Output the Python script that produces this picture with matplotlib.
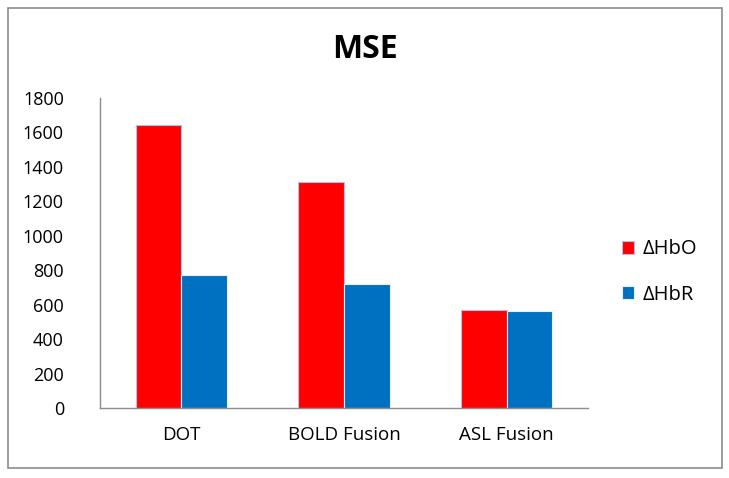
import numpy as np
import matplotlib
matplotlib.use('Agg')
import matplotlib.pyplot as plt
from matplotlib.patches import Rectangle

categories = ['DOT', 'BOLD Fusion', 'ASL Fusion']
hbo_values = [1645, 1310, 570]
hbr_values = [775, 720, 562]
series_labels = ['\u0394HbO', '\u0394HbR']
y_ticks = [0, 200, 400, 600, 800, 1000, 1200, 1400, 1600, 1800]

plt.rcParams['font.family'] = ['Open Sans', 'DejaVu Sans']

fig = plt.figure(figsize=(7.29, 4.78), dpi=100)
fig.patch.set_facecolor('white')
fig.patches.append(Rectangle((8 / 729, 10 / 478), 714 / 729, 460 / 478,
                             transform=fig.transFigure, fill=False,
                             edgecolor='#8c8c8c', linewidth=1.2))

ax = fig.add_axes([100 / 729, 70 / 478, 488 / 729, 310 / 478])
x = np.arange(len(categories))
w = 0.28
ax.bar(x - w / 2, hbo_values, w, color='#ff0000', edgecolor='#a9c4e8',
       linewidth=0.8, label=series_labels[0])
ax.bar(x + w / 2, hbr_values, w, color='#0070c0', edgecolor='#e8eef6',
       linewidth=0.8, label=series_labels[1])

ax.set_xlim(-0.5, len(categories) - 0.5)
ax.set_ylim(0, 1800)
ax.set_yticks(y_ticks)
ax.set_yticklabels([str(v) for v in y_ticks], fontsize=13)
ax.set_xticks(x)
ax.set_xticklabels(categories, fontsize=13.5)
ax.tick_params(axis='x', length=0, pad=13)
ax.tick_params(axis='y', length=0, pad=26)
for side in ['top', 'right']:
    ax.spines[side].set_visible(False)
for side in ['left', 'bottom']:
    ax.spines[side].set_color('#8c8c8c')
    ax.spines[side].set_linewidth(1)

fig.text(365 / 729, 1 - 50 / 478, 'MSE', ha='center', va='center',
         fontsize=23, fontweight='bold')

fig.legend(loc='center left', bbox_to_anchor=(604 / 729, 1 - 272 / 478),
           frameon=False, fontsize=14.5, handlelength=0.6, handleheight=0.6,
           labelspacing=1.25, handletextpad=0.4)

fig.savefig('out.png', dpi=100)
